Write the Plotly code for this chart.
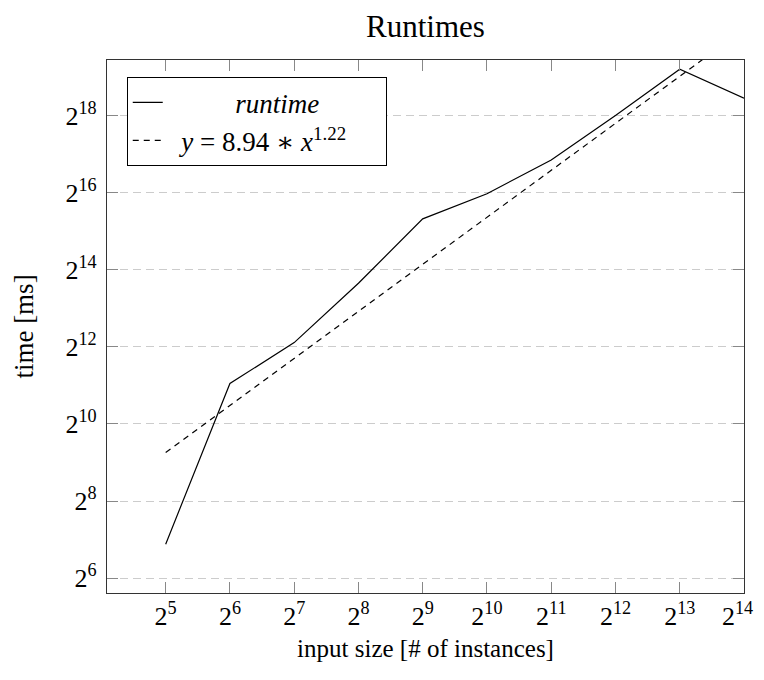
import plotly.graph_objects as go

# ---- data ----
input_sizes = [32, 64, 128, 256, 512, 1024, 2048, 4096, 8192, 16384]
runtime_ms = [118, 2120, 4420, 12850, 40900, 64200, 118000, 262000, 601900, 358000]
fit_ms = [613, 1428, 3327, 7749, 18050, 42040, 97930, 228100, 531300, 1237000]

x_tick_vals = [2 ** k for k in range(5, 15)]
x_tick_text = [f"2<sup>{k}</sup>" for k in range(5, 15)]
y_tick_vals = [2 ** k for k in range(6, 19, 2)]
y_tick_text = [f"2<sup>{k}</sup>" for k in range(6, 19, 2)]

title_text = "Runtimes"
x_title = "input size [# of instances]"
y_title = "time [ms]"
runtime_label = "&nbsp;" * 10 + "<i>runtime</i>"
fit_label = "&nbsp;&nbsp;<i>y</i> = 8.94 ∗ <i>x</i><sup>1.22</sup>" + "&nbsp;" * 5

FONT = "Liberation Serif, DejaVu Serif, serif"

# keep the last x label inside the window (pad it so its centre shifts left a little)
x_tick_text_drawn = x_tick_text[:-1] + [x_tick_text[-1] + "&nbsp;" * 2]

fig = go.Figure()
fig.add_trace(go.Scatter(x=input_sizes, y=runtime_ms, mode="lines",
                         line=dict(color="black", width=1.2), name=runtime_label))
fig.add_trace(go.Scatter(x=input_sizes, y=fit_ms, mode="lines",
                         line=dict(color="black", width=1.2, dash="6px,5px"),
                         name=fit_label))

# the page body adds an 8px offset; the figure is sized so the plot area lands
# where the reference has it inside the 764x680 window
W, H = 756, 672
LOG2 = 0.30103
fig.update_layout(
    width=W, height=H,
    margin=dict(l=99, r=20, t=52, b=87),
    paper_bgcolor="white", plot_bgcolor="white",
    font=dict(family=FONT, size=25, color="black"),
    title=dict(text=title_text, x=0.5, xref="paper", xanchor="center",
               y=1 - 18 / H, yref="container", yanchor="middle",
               font=dict(size=31)),
    showlegend=True,
    legend=dict(x=0.031, y=0.9675, xanchor="left", yanchor="top",
                bordercolor="black", borderwidth=1, bgcolor="white",
                font=dict(size=27), tracegroupgap=0),
)
fig.update_xaxes(
    type="log", range=[4.087 * LOG2, 14 * LOG2],
    tickmode="array", tickvals=x_tick_vals, ticktext=x_tick_text_drawn,
    ticks="inside", ticklen=11, tickcolor="#888", tickwidth=1,
    showline=True, linecolor="#333", linewidth=1.2, mirror="ticks",
    showgrid=False, zeroline=False, automargin=False,
    ticklabeloverflow="allow",
    tickfont=dict(size=26),
    title=dict(text=x_title, font=dict(size=25), standoff=9),
)
fig.update_yaxes(
    type="log", range=[5.616 * LOG2, 19.44 * LOG2],
    tickmode="array", tickvals=y_tick_vals, ticktext=y_tick_text,
    ticks="inside", ticklen=11, tickcolor="#888", tickwidth=1,
    showline=True, linecolor="#333", linewidth=1.2, mirror="ticks",
    showgrid=True, gridcolor="#cccccc", griddash="8px,5px", gridwidth=1,
    zeroline=False, automargin=False,
    tickfont=dict(size=26), ticklabelstandoff=4,
    title=dict(text=y_title, font=dict(size=27), standoff=24),
)

fig.write_html("out.html")
